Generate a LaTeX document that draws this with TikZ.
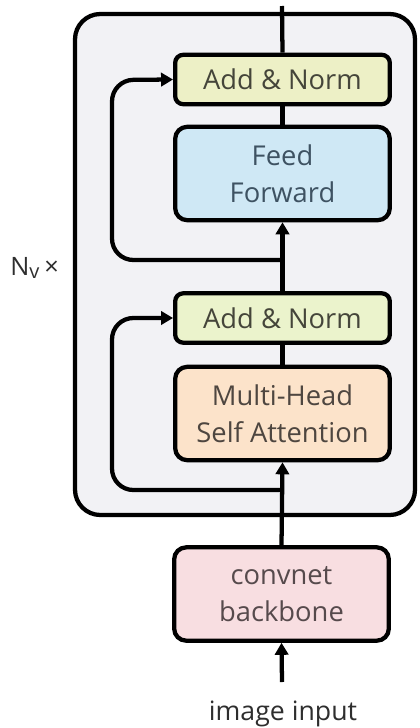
\documentclass[tikz,border=0pt]{standalone}
\usepackage{fontspec}
\setmainfont{Open Sans}
\usetikzlibrary{arrows.meta}
\definecolor{framefill}{HTML}{F2F2F5}
\definecolor{normfill}{HTML}{EDF0C6}
\definecolor{normfillb}{HTML}{EBF3CC}
\definecolor{fffill}{HTML}{CFE8F5}
\definecolor{mhfill}{HTML}{FCE3CA}
\definecolor{cnnfill}{HTML}{F8DEE1}
\definecolor{normtext}{HTML}{45453A}
\definecolor{fftext}{HTML}{3E5262}
\definecolor{mhtext}{HTML}{4E4640}
\definecolor{cnntext}{HTML}{564A4C}
\definecolor{labeltext}{HTML}{2E2E2E}
\tikzset{
  blockbox/.style={draw=black, line width=3.2pt, rounded corners=9pt,
    minimum width=161pt, align=center, font=\fontsize{20.5}{28}\selectfont, inner sep=0pt},
  normbox/.style={blockbox, fill=normfill, text=normtext, minimum height=37pt, rounded corners=6pt},
  tallbox/.style={blockbox, minimum height=70pt},
  wire/.style={line width=3.2pt},
  arrowwire/.style={wire, -{Triangle[length=9pt,width=10pt]}},
  skipwire/.style={arrowwire, rounded corners=16pt},
}
\begin{document}
\begin{tikzpicture}[x=0.75pt, y=-0.75pt]
\useasboundingbox (0,0) rectangle (420,728);
% encoder layer frame
\draw[line width=3.2pt, fill=framefill, rounded corners=19pt] (75,14) rectangle (415,515);
% blocks
\node[normbox] (an1) at (282.5,79.5) {Add \& Norm};
\node[tallbox, fill=fffill, text=fftext] (ff) at (282.5,173.5) {Feed\\Forward};
\node[normbox, fill=normfillb] (an2) at (282.5,318) {Add \& Norm};
\node[tallbox, fill=mhfill, text=mhtext] (mh) at (282.5,413.5) {Multi-Head\\Self Attention};
\node[tallbox, fill=cnnfill, text=cnntext] (cnn) at (281.5,594) {convnet\\backbone};
\node[font=\fontsize{20}{24}\selectfont, text=labeltext] (inp) at (283,714) {image input};
\node[font=\fontsize{19}{22}\selectfont, text=labeltext, anchor=west, inner sep=0pt] (nv) at (10,268) {N\textsubscript{\fontsize{15}{16}\selectfont v}\,×};
% helper points on the main path
\coordinate (top) at (282,6);
\coordinate (src) at (282,682);
\coordinate (split1) at (282,490);
\coordinate (split2) at (282,260);
% main data path
\draw[wire] (an1.north) -- (top);
\draw[wire] (ff.north) -- (an1.south);
\draw[arrowwire] (an2.north) -- (ff.south);
\draw[wire] (mh.north) -- (an2.south);
\draw[arrowwire] (cnn.north) -- (mh.south);
\draw[arrowwire] (src) -- (cnn.south);
% residual connections
\draw[skipwire] (split1) -| (112,318) -- (an2.west);
\draw[skipwire] (split2) -| (112,80) -- (an1.west);
\end{tikzpicture}
\end{document}
